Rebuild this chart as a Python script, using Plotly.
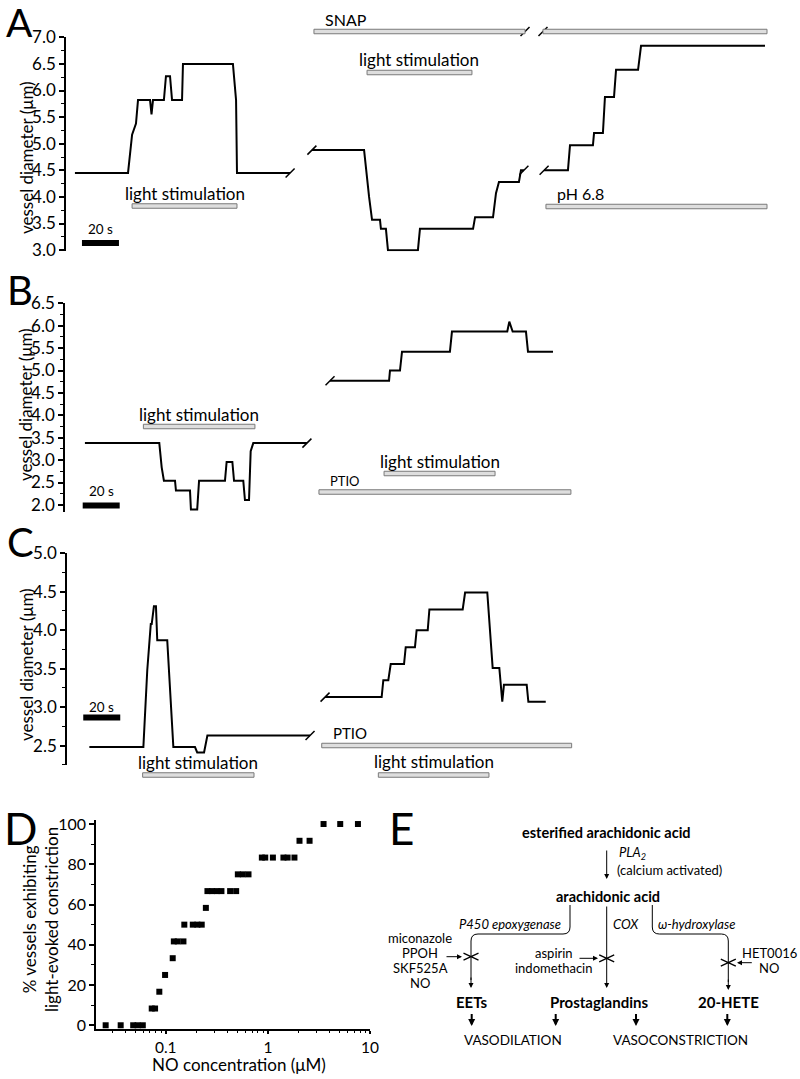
import plotly.graph_objects as go

W, H = 800, 1079
SPX = 1.85  # pixels per second on the shared time axis (20 s scale bar = 37 px)
FONT = "Lato, 'Open Sans', sans-serif"

# ---------------- data ----------------
# Panel A: vessel diameter (um) against time (s); three segments split by breaks
a_t1 = [40.5, 69.2, 71.4, 73.5, 74.6, 81.1, 81.9, 82.7, 88.6, 89.7, 91.9, 93.0, 98.4, 98.9, 125.9, 127.6, 128.1, 156.8]
a_d1 = [4.45, 4.45, 5.17, 5.38, 5.82, 5.82, 5.55, 5.82, 5.82, 6.27, 6.27, 5.82, 5.82, 6.5, 6.5, 5.82, 4.45, 4.45]
a_t2 = [168.6, 196.8, 199.5, 201.1, 205.4, 205.9, 208.6, 209.7, 225.9, 227.0, 255.7, 256.8, 266.5, 268.1, 269.7, 280.5, 281.6, 283.2]
a_d2 = [4.88, 4.88, 4.0, 3.57, 3.57, 3.4, 3.4, 3.0, 3.0, 3.4, 3.4, 3.62, 3.62, 4.07, 4.28, 4.28, 4.5, 4.5]
a_t3 = [294.1, 307.0, 308.1, 320.5, 321.1, 325.9, 327.0, 331.9, 333.0, 344.9, 346.5, 413.5]
a_d3 = [4.5, 4.5, 4.97, 4.97, 5.2, 5.2, 5.88, 5.88, 6.39, 6.39, 6.84, 6.84]
a_light = [[71.4, 128.1], [198.4, 255.1]]
a_snap = [[169.7, 283.8], [293.5, 414.6]]
a_ph = [295.1, 414.6]
a_scale = [44.3, 64.3]

# Panel B
b_t1 = [45.9, 86.1, 87.4, 88.6, 94.6, 95.1, 102.7, 103.2, 106.6, 107.6, 121.6, 122.5, 125.6, 126.5, 131.5, 132.4, 134.6, 135.5, 136.9, 165.9]
b_d1 = [3.38, 3.38, 2.84, 2.54, 2.54, 2.32, 2.32, 1.9, 1.9, 2.54, 2.54, 2.96, 2.96, 2.54, 2.54, 2.11, 2.11, 3.2, 3.38, 3.38]
b_t2 = [178.4, 210.3, 210.8, 216.2, 217.3, 243.2, 244.3, 274.2, 275.3, 277.1, 284.3, 285.4, 298.9]
b_d2 = [4.77, 4.77, 5.0, 5.0, 5.42, 5.42, 5.87, 5.87, 6.09, 5.87, 5.87, 5.42, 5.42]
b_light = [[77.5, 137.8], [207.6, 267.6]]
b_ptio = [172.4, 308.6]
b_scale = [44.7, 64.7]

# Panel C
c_t1 = [48.3, 77.5, 79.6, 81.5, 82.0, 83.2, 84.3, 85.0, 90.4, 91.9, 92.3, 93.7, 105.4, 106.6, 110.3, 112.1, 167.6]
c_d1 = [2.48, 2.48, 3.48, 4.08, 4.08, 4.31, 4.31, 3.87, 3.87, 3.22, 3.22, 2.48, 2.48, 2.41, 2.41, 2.63, 2.63]
c_t2 = [175.7, 206.3, 207.2, 209.9, 211.2, 218.4, 219.3, 224.3, 225.2, 231.2, 232.1, 250.1, 251.4, 263.4, 266.3, 269.9, 271.5, 272.4, 284.7, 285.6, 295.0]
c_d2 = [3.13, 3.13, 3.35, 3.35, 3.56, 3.56, 3.78, 3.78, 4.0, 4.0, 4.27, 4.27, 4.49, 4.49, 3.51, 3.51, 3.07, 3.29, 3.29, 3.07, 3.07]
c_light = [[77.1, 137.3], [204.5, 264.3]]
c_ptio = [173.9, 309.0]
c_scale = [45.0, 65.0]

# Panel D: NO concentration (uM) vs % vessels with light-evoked constriction
d_conc = [0.0258, 0.0362, 0.048, 0.053, 0.0596, 0.0729, 0.0786, 0.0865, 0.0985, 0.117,
          0.120, 0.131, 0.149, 0.152, 0.184, 0.204, 0.225, 0.247, 0.256, 0.284,
          0.316, 0.351, 0.427, 0.489, 0.508, 0.569, 0.646, 0.873, 0.942, 1.12,
          1.42, 1.56, 1.82, 2.04, 2.56, 3.51, 5.11, 7.62]
d_pct = [0, 0, 0, 0, 0, 8.33, 8.33, 16.67, 25, 33.33,
         41.67, 41.67, 41.67, 50, 50, 50, 50, 58.33, 66.67, 66.67,
         66.67, 66.67, 66.67, 66.67, 75, 75, 75, 83.33, 83.33, 83.33,
         83.33, 83.33, 83.33, 91.67, 91.67, 100, 100, 100]
d_xticks = [0.1, 1, 10]
d_xminor = [0.03, 0.04, 0.05, 0.06, 0.07, 0.08, 0.09, 0.2, 0.3, 0.4, 0.5, 0.6, 0.7, 0.8, 0.9,
            2, 3, 4, 5, 6, 7, 8, 9]


def dom(px_bottom, px_top):
    return [1 - px_bottom / H, 1 - px_top / H]


fig = go.Figure()

# --- traces: panels A-C ---
panels = [
    ("y", [(a_t1, a_d1), (a_t2, a_d2), (a_t3, a_d3)]),
    ("y2", [(b_t1, b_d1), (b_t2, b_d2)]),
    ("y3", [(c_t1, c_d1), (c_t2, c_d2)]),
]
for yref, segs in panels:
    for t, d in segs:
        fig.add_trace(go.Scatter(x=t, y=d, mode="lines", xaxis="x", yaxis=yref,
                                 line=dict(color="black", width=2), showlegend=False,
                                 hoverinfo="skip"))
    # break marks at the joined ends of the segments
    bx, by = [], []
    for i, (t, d) in enumerate(segs):
        if i > 0:
            bx.append(t[0]); by.append(d[0])
        if i < len(segs) - 1:
            bx.append(t[-1]); by.append(d[-1])
    fig.add_trace(go.Scatter(x=bx, y=by, mode="markers", xaxis="x", yaxis=yref,
                             marker=dict(symbol="line-ne", size=9,
                                         line=dict(color="black", width=1.5)),
                             cliponaxis=False, showlegend=False, hoverinfo="skip"))

# --- panel D scatter ---
fig.add_trace(go.Scatter(x=d_conc, y=d_pct, mode="markers", xaxis="x4", yaxis="y4",
                         marker=dict(symbol="square", size=6, color="black"),
                         cliponaxis=False, showlegend=False, hoverinfo="skip"))

# pixel-space helper subplot for diagram and labels
fig.add_trace(go.Scatter(x=[], y=[], xaxis="x5", yaxis="y5", showlegend=False))

shapes = []
ann = []


def bar(t0, t1, yc, h=4.5):
    shapes.append(dict(type="rect", xref="x", yref="y5", x0=t0, x1=t1,
                       y0=yc - h / 2, y1=yc + h / 2, fillcolor="#dedede",
                       line=dict(color="#7a7a7a", width=1), layer="above"))


def scalebar(t0, t1, yc, h=6):
    shapes.append(dict(type="rect", xref="x", yref="y5", x0=t0, x1=t1,
                       y0=yc - h / 2, y1=yc + h / 2, fillcolor="black",
                       line=dict(width=0), layer="above"))


def text(x, y, s, size=17, xref="x5", xanchor="center", angle=0, **kw):
    ann.append(dict(x=x, y=y, xref=xref, yref="y5", text=s, showarrow=False,
                    font=dict(size=size, family=FONT, color="black"),
                    xanchor=xanchor, yanchor="middle", textangle=angle, **kw))


def arrow(x0, y0, x1, y1, width=1, size=1.0):
    ann.append(dict(x=x1, y=y1, ax=x0, ay=y0, xref="x5", yref="y5", axref="x5", ayref="y5",
                    text="", showarrow=True, arrowhead=2, arrowsize=size,
                    arrowwidth=width, arrowcolor="black", standoff=0, startstandoff=0))


def mid(iv):
    return (iv[0] + iv[1]) / 2


# ---------- Panel A decorations ----------
bar(*a_light[0], 206); text(mid(a_light[0]), 193, "light stimulation", xref="x")
bar(*a_light[1], 72.5); text(mid(a_light[1]), 59, "light stimulation", xref="x")
for iv in a_snap:
    bar(*iv, 31.5)
text(a_snap[0][0] + 5, 19, "SNAP", size=16, xref="x", xanchor="left")
fig.add_trace(go.Scatter(x=[a_snap[0][1], a_snap[1][0]], y=[31.5, 31.5], mode="markers",
                         xaxis="x", yaxis="y5", cliponaxis=False, showlegend=False,
                         marker=dict(symbol="line-ne", size=9, line=dict(color="black", width=1.5))))
bar(*a_ph, 206.5); text(a_ph[0] + 5, 193, "pH 6.8", size=16, xref="x", xanchor="left")
scalebar(*a_scale, 243); text(mid(a_scale), 229, "20 s", size=13.5, xref="x")
text(19, 22, "A", size=39)
text(26, 158, "vessel diameter (μm)", angle=-90)

# ---------- Panel B decorations ----------
bar(*b_light[0], 426.5); text(mid(b_light[0]), 414, "light stimulation", xref="x")
bar(*b_light[1], 473.5); text(mid(b_light[1]), 461.5, "light stimulation", xref="x")
bar(*b_ptio, 492); text(b_ptio[0] + 5, 480.5, "PTIO", size=13, xref="x", xanchor="left")
scalebar(*b_scale, 505.5); text(mid(b_scale), 491, "20 s", size=13.5, xref="x")
text(20, 290, "B", size=40)
text(25, 405, "vessel diameter (μm)", angle=-90)

# ---------- Panel C decorations ----------
bar(*c_light[0], 775); text(mid(c_light[0]), 762, "light stimulation", xref="x")
bar(*c_light[1], 775); text(mid(c_light[1]), 761, "light stimulation", xref="x")
bar(*c_ptio, 745.5); text(c_ptio[0] + 5, 733, "PTIO", size=15, xref="x", xanchor="left")
scalebar(*c_scale, 717.5); text(mid(c_scale), 706.5, "20 s", size=13.5, xref="x")
text(20, 542, "C", size=40)
text(26, 665, "vessel diameter (μm)", angle=-90)

# ---------- Panel D labels ----------
text(20, 828, "D", size=44)
text(40, 920, "% vessels exhibiting<br>light-evoked constriction", angle=-90)
text(239, 1064, "NO concentration (μM)")

# ---------- Panel E diagram ----------
text(401, 828, "E", size=44)
text(606, 832.5, "<b>esterified arachidonic acid</b>", size=14.5)
arrow(606.7, 849, 606.7, 879)
text(617, 853, "<i>PLA<sub>2</sub></i>", size=13, xanchor="left")
text(615, 870, "(calcium activated)", size=13, xanchor="left")
text(607.5, 896, "<b>arachidonic acid</b>", size=14.5)

line = dict(color="black", width=1)
shapes.append(dict(type="path", xref="x5", yref="y5", line=line,
                   path="M 570,905 L 570,927 Q 570,934 563,934 L 478,934 Q 471,934 471,941 L 471,980"))
arrow(471, 976, 471, 988)
arrow(606.7, 905, 606.7, 988)
shapes.append(dict(type="path", xref="x5", yref="y5", line=line,
                   path="M 652.3,905 L 652.3,927 Q 652.3,934 659.3,934 L 721.3,934 Q 728.3,934 728.3,941 L 728.3,982"))
arrow(728.3, 978, 728.3, 990)
text(563, 924, "<i>P450 epoxygenase</i>", size=13, xanchor="right")
text(610.5, 924, "<i>COX</i>", size=13, xanchor="left")
text(656, 924, "<i>ω-hydroxylase</i>", size=13, xanchor="left")

for cx, cy in [(471, 956.7), (606.7, 958.3), (728.3, 962.7)]:
    shapes.append(dict(type="path", xref="x5", yref="y5", line=dict(color="black", width=1.3),
                       path=f"M {cx-7.5},{cy-3.5} L {cx+7.5},{cy+3.5} M {cx-7.5},{cy+3.5} L {cx+7.5},{cy-3.5}"))
arrow(445, 956.7, 462, 956.7)
arrow(578, 958.3, 598, 958.3)
arrow(753.3, 962.7, 737, 962.7)

for i, s in enumerate(["miconazole", "PPOH", "SKF525A", "NO"]):
    text(420, 938.3 + 14.8 * i, s, size=13)
text(553.5, 953.3, "aspirin", size=13)
text(554, 967.7, "indomethacin", size=13)
text(769, 953.3, "HET0016", size=13)
text(769, 967.7, "NO", size=13)

text(471.7, 1001.7, "<b>EETs</b>", size=15)
text(599.3, 1001.7, "<b>Prostaglandins</b>", size=15)
text(728.3, 1001.7, "<b>20-HETE</b>", size=15)
for ax_ in [471.7, 555.7, 636, 727.3]:
    arrow(ax_, 1012.5, ax_, 1026, width=2, size=0.7)
text(513.3, 1040, "VASODILATION", size=13.5)
text(680.8, 1040, "VASOCONSTRICTION", size=13.5)

# ---------------- axes ----------------
def yax(rng, px_bottom, px_top, pos):
    return dict(range=rng, domain=dom(px_bottom, px_top), anchor="free", position=pos / W,
                showline=True, linecolor="black", linewidth=1.5, showgrid=False, zeroline=False,
                ticks="outside", ticklen=5, tickwidth=1.5, tickcolor="black",
                tick0=0, dtick=0.5, tickformat=".1f",
                tickfont=dict(size=17, family=FONT, color="black"),
                minor=dict(dtick=0.25, ticks="outside", ticklen=3, tickwidth=1.2, tickcolor="black"))


fig.update_layout(
    width=W, height=H, autosize=False,
    margin=dict(l=0, r=0, t=0, b=0, pad=0, autoexpand=False),
    paper_bgcolor="white", plot_bgcolor="rgba(0,0,0,0)",
    font=dict(family=FONT, color="black"),
    showlegend=False,
    xaxis=dict(domain=[0, 1], range=[0, W / SPX], visible=False, anchor="y"),
    yaxis=yax([2.98, 7.0], 251.2, 37.3, 65),
    yaxis2=yax([1.84, 6.5], 512.1, 303.3, 64),
    yaxis3=yax([2.25, 5.0], 764.8, 553.3, 66),
    xaxis4=dict(type="log", range=[-1.683, 1.0], domain=[96 / W, 370 / W], anchor="y4",
                showline=True, linecolor="black", linewidth=1.5, showgrid=False, zeroline=False,
                ticks="outside", ticklen=3, tickwidth=1.5, tickcolor="black",
                tickvals=d_xticks, ticktext=["0.1", "1", "10"],
                tickfont=dict(size=15.5, family=FONT, color="black"),
                minor=dict(tickvals=d_xminor, ticks="outside", ticklen=2, tickwidth=1, tickcolor="black")),
    yaxis4=dict(range=[-2, 102], domain=dom(1029.3, 820), anchor="x4",
                showline=True, linecolor="black", linewidth=1.5, showgrid=False, zeroline=False,
                ticks="outside", ticklen=5, tickwidth=1.5, tickcolor="black",
                tick0=0, dtick=20, tickfont=dict(size=16, family=FONT, color="black"),
                minor=dict(dtick=10, ticks="outside", ticklen=3, tickwidth=1.2, tickcolor="black")),
    xaxis5=dict(domain=[0, 1], range=[0, W], visible=False, anchor="y5"),
    yaxis5=dict(domain=[0, 1], range=[H, 0], visible=False, anchor="x5"),
    shapes=shapes,
    annotations=ann,
)

# the page's default body margin would shift the figure by 8 px
fig.write_html("out.html", config={"displayModeBar": False},
               post_script="document.body.style.margin='0';")
